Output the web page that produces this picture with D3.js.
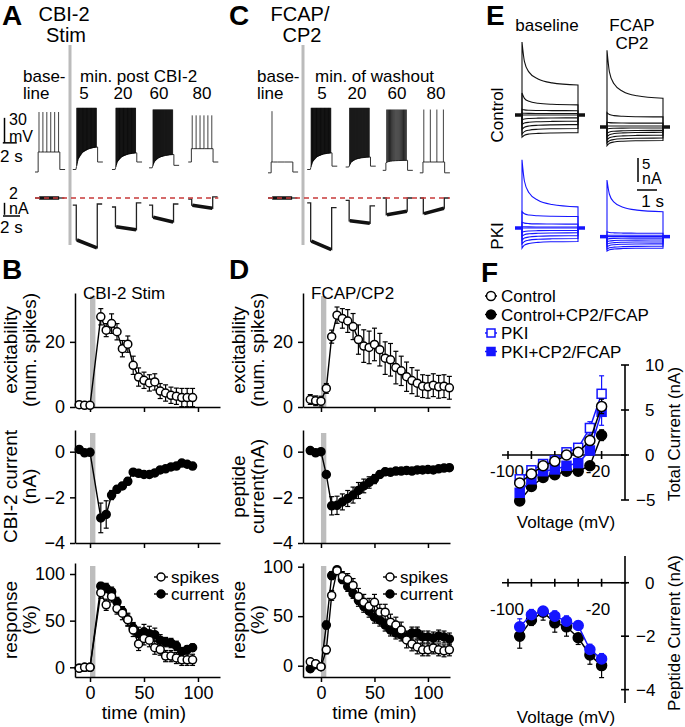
<!DOCTYPE html>
<html>
<head>
<meta charset="utf-8">
<script src="https://cdn.jsdelivr.net/npm/d3@7"></script>
<style>
  body { margin: 0; background: #fff; }
  text { font-family: "Liberation Sans", Arial, Helvetica, sans-serif; }
</style>
</head>
<body>
<script>
var FONT = '"Liberation Sans", Arial, Helvetica, sans-serif';
var BLUE = "#1515ff";

// ---------- B : CBI-2 stim time course ----------
var timeB = [-10, -5, 0, 10, 15, 20, 25, 30, 35, 40, 45, 50, 55, 60, 65, 70, 75, 80, 85, 90, 95];
var spikesB = [0.7, 0.5, 0.5, 27.7, 23.6, 25.6, 23.1, 17.9, 19.3, 12.8, 9.2, 8.2, 7.4, 7.7, 4.9, 4.3, 3.6, 3.3, 2.9, 2.9, 2.9];
var spikesBErr = [0.3, 0.3, 0.3, 2.5, 2.0, 3.0, 2.5, 2.5, 2.5, 2.8, 2.8, 2.5, 2.5, 2.5, 2.3, 2.5, 2.5, 2.5, 2.8, 2.8, 2.8];
var currentB = [0.1, -0.05, -0.03, -2.9, -2.75, -1.9, -1.65, -1.5, -1.3, -0.9, -0.95, -1.0, -1.0, -0.93, -0.8, -0.75, -0.67, -0.63, -0.5, -0.55, -0.63];
var currentBErr = [0.05, 0.05, 0.05, 0.65, 0.6, 0.2, 0.15, 0.15, 0.15, 0.1, 0.1, 0.1, 0.1, 0.1, 0.1, 0.1, 0.1, 0.1, 0.08, 0.08, 0.08];
var respSpikesB = [-1, 0, 0, 80, 67, 76, 63, 58, 51, 40, 25, 31, 29, 21, 19, 12, 12, 10, 8, 8, 8];
var respSpikesBErr = [2, 2, 2, 6, 6, 6, 6, 7, 7, 7, 7, 7, 7, 7, 6, 6, 6, 6, 6, 6, 6];
var respCurrentB = [-1, 0, 0, 87, 85, 81, 70, 60, 51, 42, 36, 38, 36, 35, 29, 27, 26, 23, 17, 19, 21];
var respCurrentBErr = [2, 2, 2, 4, 5, 5, 5, 5, 6, 6, 7, 8, 8, 7, 6, 5, 5, 5, 4, 4, 4];

// ---------- D : FCAP/CP2 time course ----------
var timeD = [-10, -5, 0, 5, 10, 15, 20, 25, 30, 35, 40, 45, 50, 55, 60, 65, 70, 75, 80, 85, 90, 95, 100, 105, 110, 115, 120];
var spikesD = [2.3, 1.9, 1.8, 5.7, 21.6, 28.2, 27.2, 26.4, 24.7, 20.7, 18.7, 18.3, 19.2, 17.6, 15.0, 14.5, 12.1, 11.1, 9.3, 8.1, 7.3, 6.4, 6.2, 6.7, 6.2, 6.4, 5.9];
var spikesDErr = [1.5, 1.5, 1.5, 1.5, 2.0, 2.5, 3.0, 3.5, 4.0, 4.5, 5.0, 5.0, 5.0, 5.0, 5.0, 5.0, 5.0, 4.5, 4.5, 4.0, 4.0, 3.5, 3.5, 3.5, 3.5, 3.5, 3.5];
var currentD = [0.05, -0.05, 0, -1.0, -2.37, -2.35, -2.2, -2.05, -1.9, -1.7, -1.5, -1.35, -1.2, -1.0, -0.88, -0.9, -0.85, -0.85, -0.82, -0.85, -0.8, -0.8, -0.78, -0.8, -0.75, -0.72, -0.7];
var currentDErr = [0.05, 0.05, 0.05, 0.1, 0.4, 0.4, 0.35, 0.35, 0.35, 0.35, 0.3, 0.25, 0.2, 0.15, 0.15, 0.15, 0.15, 0.1, 0.1, 0.1, 0.1, 0.1, 0.1, 0.1, 0.1, 0.1, 0.1];
var respSpikesD = [4, 2, -1, 16, 71, 96, 90, 87, 81, 70, 64, 60, 64, 54, 54, 44, 41, 36, 26, 22, 19, 16, 16, 18, 16, 15, 16];
var respSpikesDErr = [2, 2, 2, 4, 5, 4, 5, 6, 7, 8, 8, 8, 8, 8, 8, 8, 8, 8, 8, 7, 7, 6, 6, 6, 6, 6, 6];
var respCurrentD = [-3, 1, -1, 41, 91, 97, 87, 80, 73, 66, 60, 55, 49, 46, 41, 36, 33, 31, 29, 33, 33, 29, 29, 28, 30, 29, 27];
var respCurrentDErr = [2, 2, 2, 4, 4, 3, 4, 5, 5, 6, 6, 6, 6, 6, 6, 6, 6, 6, 6, 6, 6, 6, 6, 6, 6, 6, 6];

// ---------- F : I-V curves ----------
var voltages = [-90, -80, -70, -60, -50, -40, -30, -20];
var ctrlTotal = [-3.1, -2.1, -1.2, -0.7, 0.0, 0.3, 1.6, 5.4];
var ctrlTotalErr = [0.3, 0.2, 0.2, 0.2, 0.2, 0.2, 0.3, 0.8];
var cp2Total = [-5.1, -3.5, -2.5, -2.2, -1.8, -1.8, -1.2, 2.2];
var cp2TotalErr = [0.5, 0.3, 0.2, 0.2, 0.2, 0.2, 0.3, 0.6];
var pkiTotal = [-2.7, -1.7, -1.0, -0.6, 0.3, 0.8, 3.0, 6.8];
var pkiTotalErr = [0.3, 0.2, 0.2, 0.2, 0.2, 0.3, 0.7, 2.0];
var pkiCp2Total = [-4.2, -2.7, -1.8, -1.6, -1.2, -0.9, 0.5, 4.8];
var pkiCp2TotalErr = [0.4, 0.3, 0.2, 0.2, 0.2, 0.2, 0.3, 1.5];
var ctrlPeptide = [-2.0, -1.4, -1.1, -1.5, -1.65, -2.06, -2.7, -3.1];
var ctrlPeptideErr = [0.45, 0.2, 0.3, 0.35, 0.35, 0.25, 0.35, 0.45];
var pkiPeptide = [-1.65, -1.2, -1.06, -1.25, -1.44, -1.6, -2.5, -2.85];
var pkiPeptideErr = [0.3, 0.2, 0.15, 0.2, 0.2, 0.15, 0.2, 0.2];
var legendF = ["Control", "Control+CP2/FCAP", "PKI", "PKI+CP2/FCAP"];

// ---------- A / C : example recordings ----------
var traceLabels = ["5", "20", "60", "80"];
// voltage traces (mV): baseline, 5, 20, 60, 80 min
var vStartA = [0, 5.4, 11, 16.3, 21.9];
var vRestA = [-65, -62, -62, -60, -53];
var vTrough0A = [-41, -62, -62, -60, -37];
var vTrough1A = [-41, -35, -42, -44, -37];
var vTopA = [7, 12, 12, 10, 3];
var spikeCountA = [6, 45, 45, 40, 6];
var vPostA = [-62, -53, -53, -57, -53];
var vStartC = [0, 5.6, 11.1, 16.4, 21.7];
var vRestC = [-66, -62, -59, -63, -66];
var vTrough0C = [-53, -62, -59, -54, -53];
var vTrough1C = [-53, -42, -47, -51, -53];
var vTopC = [8, 12, 12, 10, 10];
var spikeCountC = [1, 45, 40, 22, 4];
var vPostC = [-65, -58, -58, -63, -66];
// current traces (nA)
var iHoldA = [0, -1.2, -1.5, -1.2, -0.2];
var iPeakA = [0, -7.0, -4.8, -3.2, -1.2];
var iSusA = [0, -8.3, -5.3, -4.0, -1.7];
var iPostA = [0, -1.0, -0.8, -1.0, 0.2];
var iHoldC = [0, -0.8, -0.4, 0, 0];
var iPeakC = [0, -7.2, -3.8, -2.8, -2.6];
var iSusC = [0, -8.6, -4.2, -2.2, -1.7];
var iPostC = [0, -1.6, -1.3, 0, 0];
var envFrac = [0, 0.1, 0.3, 0.6, 1];
var envProf = [0, 0.45, 0.75, 0.92, 1];

// ---------- E : current families (nA) ----------
var eCtrlBasePeak = [15.2, 4.6, 1.2, 0.4, 0, -1.0, -2.0, -3.0, -4.0, -4.6];
var eCtrlBaseSS = [6.25, 2.1, 0.9, 0.3, 0, -0.6, -1.3, -2.0, -2.8, -3.7];
var eCtrlPepPeak = [13.5, 0.5, -1.5, -2.3, -2.9, -3.8, -4.5, -5.2, -5.8, -6.4];
var eCtrlPepSS = [3.5, -0.4, -1.7, -2.3, -2.7, -3.2, -3.6, -4.2, -4.8, -5.3];
var ePkiBasePeak = [14.2, 3.4, 1.2, 0.3, 0, -0.9, -1.7, -2.5, -3.3, -4.2];
var ePkiBaseSS = [4.4, 2.4, 0.8, 0.2, 0, -0.5, -1.0, -1.6, -2.2, -2.8];
var ePkiPepPeak = [10, -0.8, -1.5, -1.8, -2.3, -2.9, -3.4, -3.9, -4.4, -4.8];
var ePkiPepSS = [3.4, -1.1, -1.5, -1.8, -2.1, -2.5, -2.9, -3.3, -3.8, -4.2];
var eHold = [0, -2.5, 0, -1.8];
var decayT = [0, 0.12, 0.35, 0.8, 1.5, 2.8];
var decayF = [1, 0.55, 0.3, 0.14, 0.05, 0];

var svg = d3.select("body").append("svg")
    .attr("width", 685).attr("height", 727);

function label(x, y, s, o) {
    o = o || {};
    var t = svg.append("text").attr("x", x).attr("y", y).text(s)
        .attr("font-size", o.size || 17)
        .attr("text-anchor", o.anchor || "start")
        .attr("fill", o.fill || "#000");
    if (o.bold) t.attr("font-weight", "bold");
    if (o.rot) t.attr("transform", "rotate(" + o.rot + "," + x + "," + y + ")");
    return t;
}

// panel letters
[["A", 2, 25], ["C", 229, 25], ["E", 486, 25], ["B", 2, 279], ["D", 229, 279], ["F", 481, 282]].forEach(function(p) {
    label(p[1], p[2], p[0], {size: 28, bold: true});
});

// ================= time-course panels (B, D) =================
function timePanel(o) {
    var x = d3.scaleLinear().domain(o.xd).range([o.left, o.right]);
    var y = d3.scaleLinear().domain(o.yd).range([o.bottom, o.top]);
    var g = svg.append("g");
    g.append("rect")
        .attr("x", x(0)).attr("y", o.top + 3)
        .attr("width", x(5) - x(0)).attr("height", o.bottom - o.top - 3)
        .attr("fill", "#bdbdbd");

    var xa = d3.axisBottom(x).tickValues([0, 50, 100]).tickSizeInner(5).tickSizeOuter(0).tickPadding(4);
    if (!o.xlab) xa.tickFormat("");
    var gx = g.append("g").attr("transform", "translate(0," + o.bottom + ")").call(xa);
    var ya = d3.axisLeft(y).tickValues(o.yt).tickFormat(d3.format("d"))
        .tickSizeInner(5).tickSizeOuter(0).tickPadding(5);
    var gy = g.append("g").attr("transform", "translate(" + o.left + ",0)").call(ya);
    [gx, gy].forEach(function(a) {
        a.attr("font-size", 18).attr("font-family", FONT);
        a.selectAll("path,line").attr("stroke-width", 1.5);
        a.selectAll("text").attr("fill", "#000");
    });

    o.series.forEach(function(s) {
        var line = d3.line().x(function(d, i) { return x(o.t[i]); }).y(function(d) { return y(d); });
        g.append("path").datum(s.v).attr("d", line)
            .attr("fill", "none").attr("stroke", "#000").attr("stroke-width", 1.4);
        var eb = g.append("g").attr("stroke", "#000").attr("stroke-width", 1.2);
        s.v.forEach(function(v, i) {
            var cx = x(o.t[i]), y1 = y(v + s.e[i]), y2 = y(v - s.e[i]);
            eb.append("line").attr("x1", cx).attr("x2", cx).attr("y1", y1).attr("y2", y2);
            eb.append("line").attr("x1", cx - 2.5).attr("x2", cx + 2.5).attr("y1", y1).attr("y2", y1);
            eb.append("line").attr("x1", cx - 2.5).attr("x2", cx + 2.5).attr("y1", y2).attr("y2", y2);
        });
        g.selectAll(null).data(s.v).enter().append("circle")
            .attr("cx", function(d, i) { return x(o.t[i]); })
            .attr("cy", function(d) { return y(d); })
            .attr("r", 4)
            .attr("fill", s.open ? "#fff" : "#000")
            .attr("stroke", "#000").attr("stroke-width", 1.5);
    });

    o.ylab.forEach(function(t, i) {
        label(o.left - 58 + i * 19, (o.top + o.bottom) / 2, t, {size: 19, anchor: "middle", rot: -90});
    });
    if (o.title) label(o.left + 8, o.top + 6, o.title, {size: 17});
    if (o.xlab) label((x(0) + x(100)) / 2, o.bottom + 42, "time (min)", {size: 19, anchor: "middle"});
    if (o.legend) {
        [["spikes", true], ["current", false]].forEach(function(l, i) {
            var ly = o.top + 14 + i * 17, lx = o.legend;
            g.append("line").attr("x1", lx - 7).attr("x2", lx + 7).attr("y1", ly).attr("y2", ly)
                .attr("stroke", "#000").attr("stroke-width", 1.4);
            g.append("circle").attr("cx", lx).attr("cy", ly).attr("r", 4)
                .attr("fill", l[1] ? "#fff" : "#000").attr("stroke", "#000").attr("stroke-width", 1.5);
            label(lx + 10, ly + 6, l[0], {size: 17});
        });
    }
}

var bx = {left: 75, right: 220, xd: [-13.9, 120.4]};
var dx = {left: 303, right: 450, xd: [-16.8, 120.6]};

timePanel(Object.assign({}, bx, {top: 293, bottom: 407, yd: [0, 35], yt: [0, 20], t: timeB,
    series: [{v: spikesB, e: spikesBErr, open: true}], ylab: ["excitability", "(num. spikes)"], title: "CBI-2 Stim"}));
timePanel(Object.assign({}, bx, {top: 430, bottom: 543, yd: [-4, 0.95], yt: [-4, -2, 0], t: timeB,
    series: [{v: currentB, e: currentBErr}], ylab: ["CBI-2 current", "(nA)"]}));
timePanel(Object.assign({}, bx, {top: 563, bottom: 677, yd: [-10.4, 111.8], yt: [0, 50, 100], t: timeB,
    series: [{v: respCurrentB, e: respCurrentBErr}, {v: respSpikesB, e: respSpikesBErr, open: true}],
    ylab: ["response", "(%)"], xlab: true, legend: 161}));

timePanel(Object.assign({}, dx, {top: 293, bottom: 407, yd: [0, 35], yt: [0, 20], t: timeD,
    series: [{v: spikesD, e: spikesDErr, open: true}], ylab: ["excitability", "(num. spikes)"], title: "FCAP/CP2"}));
timePanel(Object.assign({}, dx, {top: 430, bottom: 543, yd: [-4, 0.95], yt: [-4, -2, 0], t: timeD,
    series: [{v: currentD, e: currentDErr}], ylab: ["peptide", "current(nA)"]}));
timePanel(Object.assign({}, dx, {top: 563, bottom: 677, yd: [-11.4, 103.7], yt: [0, 50, 100], t: timeD,
    series: [{v: respCurrentD, e: respCurrentDErr}, {v: respSpikesD, e: respSpikesDErr, open: true}],
    ylab: ["response", "(%)"], xlab: true, legend: 390}));

// ================= example traces (A, C) =================
var yV = d3.scaleLinear().domain([-65, 0]).range([172, 117.85]);
var yI = d3.scaleLinear().domain([0, -8]).range([198, 246]);
var lineLin = d3.line();
var lineCurve = d3.line().curve(d3.curveMonotoneX);

function tracePanel(xs, vStart, vRest, tr0, tr1, top, nSp, vPost, iHold, iPeak, iSus, iPost) {
    var g = svg.append("g");
    vStart.forEach(function(s0, i) {
        var on = s0 + 0.45, off = s0 + 3.55, end = s0 + 4.3;
        var env = d3.scaleLinear()
            .domain(envFrac.map(function(f) { return on + f * (off - on); }))
            .range(envProf.map(function(f) { return tr0[i] + (tr1[i] - tr0[i]) * f; }));
        var envPts = envFrac.map(function(f) { var t = on + f * (off - on); return [xs(t), yV(env(t))]; });
        var d = lineLin([[xs(s0), yV(vRest[i])], [xs(on), yV(vRest[i])]]) +
            lineCurve(envPts).replace(/^M/, "L") +
            lineLin([[xs(off), yV(vPost[i])], [xs(end), yV(vPost[i])]]).replace(/^M/, "L");
        g.append("path").attr("d", d).attr("fill", "none").attr("stroke", "#333").attr("stroke-width", 1);
        var n = nSp[i];
        for (var k = 0; k < n; k++) {
            var t = on + 0.12 + (off - on - 0.3) * (n === 1 ? 0 : k / (n - 1));
            g.append("line").attr("x1", xs(t)).attr("x2", xs(t))
                .attr("y1", yV(env(t))).attr("y2", yV(top[i]))
                .attr("stroke", n > 30 ? "#000" : "#111").attr("stroke-width", n > 30 ? 0.8 : (n > 10 ? 0.9 : 0.8));
        }
        // current
        var ion = s0 + 0.5, ioff = s0 + 3.5, iend = s0 + 4.2;
        var di = lineLin([[xs(s0), yI(iHold[i])], [xs(ion), yI(iHold[i])], [xs(ion), yI(iPeak[i])],
            [xs(ioff), yI(iSus[i])], [xs(ioff), yI(iPost[i])], [xs(iend), yI(iPost[i])]]);
        g.append("path").attr("d", di).attr("fill", "none").attr("stroke", "#222").attr("stroke-width", 1.3);
        // noisy band of the recorded current during the step
        g.append("path").attr("d", lineLin([[xs(ion + 0.1), yI(iPeak[i])], [xs(ioff - 0.05), yI(iSus[i])]]))
            .attr("stroke", "#111").attr("stroke-width", 3.5);
    });
    g.append("line").attr("x1", xs(vStart[0])).attr("x2", xs(vStart[4] + 4.3))
        .attr("y1", yI(0)).attr("y2", yI(0))
        .attr("stroke", "#c83a3a").attr("stroke-width", 1.5).attr("stroke-dasharray", "5,4");
    return g;
}

var xA = d3.scaleLinear().domain([0, 26.3]).range([35, 219]);
var xC = d3.scaleLinear().domain([0, 26.3]).range([268, 452]);

// gray stimulus bars
svg.append("rect").attr("x", 68.5).attr("y", 45).attr("width", 3).attr("height", 200).attr("fill", "#bbb");
svg.append("rect").attr("x", 301.5).attr("y", 45).attr("width", 3).attr("height", 200).attr("fill", "#bbb");

tracePanel(xA, vStartA, vRestA, vTrough0A, vTrough1A, vTopA, spikeCountA, vPostA, iHoldA, iPeakA, iSusA, iPostA);
tracePanel(xC, vStartC, vRestC, vTrough0C, vTrough1C, vTopC, spikeCountC, vPostC, iHoldC, iPeakC, iSusC, iPostC);

// scale bars A
var sb = svg.append("g").attr("stroke", "#000").attr("stroke-width", 1.5);
sb.append("line").attr("x1", 4.5).attr("x2", 4.5).attr("y1", yV(0)).attr("y2", yV(-30));
sb.append("line").attr("x1", xA(-4.6)).attr("x2", xA(-2.6)).attr("y1", yV(-30)).attr("y2", yV(-30));
sb.append("line").attr("x1", 4.5).attr("x2", 4.5).attr("y1", yI(-0.8)).attr("y2", yI(-2.8));
sb.append("line").attr("x1", 3).attr("x2", 20).attr("y1", yI(-3.0)).attr("y2", yI(-3.0));
label(9, 125, "30", {size: 16});
label(9, 142, "mV", {size: 16});
label(0, 162, "2 s", {size: 17});
label(9, 199, "2", {size: 16});
label(9, 214, "nA", {size: 16});
label(0, 233, "2 s", {size: 17});

// headings A / C
label(64, 21, "CBI-2", {size: 20, anchor: "middle"});
label(66, 42, "Stim", {size: 20, anchor: "middle"});
label(23, 82, "base-", {size: 17});
label(23, 99, "line", {size: 17});
label(80, 82, "min. post CBI-2", {size: 17});
[84, 123, 159, 202].forEach(function(cx, i) { label(cx, 99, traceLabels[i], {size: 17, anchor: "middle"}); });

label(300, 21, "FCAP/", {size: 20, anchor: "middle"});
label(302, 42, "CP2", {size: 20, anchor: "middle"});
label(257, 82, "base-", {size: 17});
label(257, 99, "line", {size: 17});
label(315, 82, "min. of washout", {size: 17});
[322, 357, 397, 436].forEach(function(cx, i) { label(cx, 99, traceLabels[i], {size: 17, anchor: "middle"}); });

// ================= E =================
var lineDecay = d3.line().curve(d3.curveMonotoneX);
function eFamily(x0, y0, hold, peaks, ss, color) {
    var xs = d3.scaleLinear().domain([0, 1]).range([x0, x0 + 20]);
    var ys = d3.scaleLinear().domain([0, 5]).range([y0, y0 - 24]);
    var g = svg.append("g").attr("fill", "none").attr("stroke", color);
    peaks.forEach(function(p, i) {
        var pts = decayT.map(function(t, k) { return [xs(t), ys(ss[i] + (p - ss[i]) * decayF[k])]; });
        var d = lineLin([[xs(-0.35), ys(hold)], [xs(0), ys(hold)]]) +
            lineDecay(pts).replace(/^M/, "L") +
            lineLin([[xs(2.8), ys(hold)], [xs(3.15), ys(hold)]]).replace(/^M/, "L");
        g.append("path").attr("d", d).attr("stroke-width", 1.1);
    });
    g.append("line").attr("x1", xs(-0.35)).attr("x2", xs(0)).attr("y1", ys(hold)).attr("y2", ys(hold)).attr("stroke-width", 3.5);
    g.append("line").attr("x1", xs(2.8)).attr("x2", xs(3.15)).attr("y1", ys(hold)).attr("y2", ys(hold)).attr("stroke-width", 3.5);
}
eFamily(522, 115, eHold[0], eCtrlBasePeak, eCtrlBaseSS, "#111");
eFamily(607, 115, eHold[1], eCtrlPepPeak, eCtrlPepSS, "#111");
eFamily(522, 228, eHold[2], ePkiBasePeak, ePkiBaseSS, BLUE);
eFamily(607, 228, eHold[3], ePkiPepPeak, ePkiPepSS, BLUE);

label(547, 31, "baseline", {size: 17, anchor: "middle"});
label(632, 31, "FCAP", {size: 17, anchor: "middle"});
label(632, 49, "CP2", {size: 17, anchor: "middle"});
label(503, 115, "Control", {size: 17, anchor: "middle", rot: -90});
label(503, 236, "PKI", {size: 17, anchor: "middle", rot: -90});
var sbE = svg.append("g").attr("stroke", "#000").attr("stroke-width", 1.5);
sbE.append("line").attr("x1", 638).attr("x2", 638).attr("y1", 158).attr("y2", 182);
sbE.append("line").attr("x1", 637).attr("x2", 657).attr("y1", 190).attr("y2", 190);
label(642, 169, "5", {size: 15});
label(642, 184, "nA", {size: 16});
label(664, 207, "1 s", {size: 17, anchor: "end"});

// ================= F =================
var xF = d3.scaleLinear().domain([-100, 0]).range([508, 625]);
var yF1 = d3.scaleLinear().domain([-5, 10]).range([500, 365]);
var yF2 = d3.scaleLinear().domain([-4.5, 1]).range([703, 556]);

function ivAxes(y, yTicks, xLabY) {
    var g = svg.append("g").attr("stroke", "#000").attr("stroke-width", 1.6);
    g.append("line").attr("x1", 502).attr("x2", 627).attr("y1", y(0)).attr("y2", y(0));
    g.append("line").attr("x1", xF(0)).attr("x2", xF(0)).attr("y1", y.range()[1]).attr("y2", y.range()[0]);
    [-100, -80, -60, -40, -20].forEach(function(v) {
        g.append("line").attr("x1", xF(v)).attr("x2", xF(v)).attr("y1", y(0) - 4).attr("y2", y(0) + 4);
    });
    yTicks.forEach(function(v) {
        g.append("line").attr("x1", xF(0) - 4).attr("x2", xF(0) + 4).attr("y1", y(v)).attr("y2", y(v));
        label(v < 0 ? 636 : 645, y(v) + 6, v < 0 ? "\u2212" + Math.abs(v) : String(v), {size: 17});
    });
    label(507, xLabY, "-100", {size: 17, anchor: "middle"});
    label(598, xLabY, "-20", {size: 17, anchor: "middle"});
}

function ivSeries(y, vals, errs, shape, fill, stroke, dir) {
    var g = svg.append("g");
    var line = d3.line().x(function(d, i) { return xF(voltages[i]); }).y(function(d) { return y(d); });
    g.append("path").datum(vals).attr("d", line).attr("fill", "none").attr("stroke", stroke).attr("stroke-width", 1.5);
    vals.forEach(function(v, i) {
        var cx = xF(voltages[i]);
        var ends = dir === 0 ? [v - errs[i], v + errs[i]] : [v + dir * errs[i]];
        ends.forEach(function(e) {
            g.append("line").attr("x1", cx).attr("x2", cx).attr("y1", y(v)).attr("y2", y(e)).attr("stroke", stroke).attr("stroke-width", 1.2);
            g.append("line").attr("x1", cx - 2.5).attr("x2", cx + 2.5).attr("y1", y(e)).attr("y2", y(e)).attr("stroke", stroke).attr("stroke-width", 1.2);
        });
        if (shape === "circle") {
            g.append("circle").attr("cx", cx).attr("cy", y(v)).attr("r", 5)
                .attr("fill", fill).attr("stroke", stroke).attr("stroke-width", 1.5);
        } else {
            g.append("rect").attr("x", cx - 4.5).attr("y", y(v) - 4.5).attr("width", 9).attr("height", 9)
                .attr("fill", fill).attr("stroke", stroke).attr("stroke-width", 1.5);
        }
    });
}

ivAxes(yF1, [10, 5, 0, -5], 477);
ivSeries(yF1, cp2Total, cp2TotalErr, "circle", "#000", "#000", 0);
ivSeries(yF1, pkiCp2Total, pkiCp2TotalErr, "square", BLUE, BLUE, 0);
ivSeries(yF1, pkiTotal, pkiTotalErr, "square", "#fff", BLUE, 0);
ivSeries(yF1, ctrlTotal, ctrlTotalErr, "circle", "#fff", "#000", 0);
label(566, 528, "Voltage (mV)", {size: 17, anchor: "middle"});
label(680, 434, "Total Current (nA)", {size: 17, anchor: "middle", rot: -90});

ivAxes(yF2, [0, -2, -4], 615);
ivSeries(yF2, ctrlPeptide, ctrlPeptideErr, "circle", "#000", "#000", -1);
ivSeries(yF2, pkiPeptide, pkiPeptideErr, "circle", BLUE, BLUE, 1);
label(566, 723, "Voltage (mV)", {size: 17, anchor: "middle"});
label(680, 633, "Peptide Current (nA)", {size: 17, anchor: "middle", rot: -90});

// legend F
var legStyle = [["circle", "#fff", "#000"], ["circle", "#000", "#000"], ["square", "#fff", BLUE], ["square", BLUE, BLUE]];
legendF.forEach(function(t, i) {
    var ly = 296 + i * 18.5, lx = 491;
    var s = legStyle[i];
    svg.append("line").attr("x1", lx - 6).attr("x2", lx + 6).attr("y1", ly).attr("y2", ly).attr("stroke", s[2]).attr("stroke-width", 1.5);
    if (s[0] === "circle") {
        svg.append("circle").attr("cx", lx).attr("cy", ly).attr("r", 4.5).attr("fill", s[1]).attr("stroke", s[2]).attr("stroke-width", 1.5);
    } else {
        svg.append("rect").attr("x", lx - 4).attr("y", ly - 4).attr("width", 8).attr("height", 8).attr("fill", s[1]).attr("stroke", s[2]).attr("stroke-width", 1.5);
    }
    label(lx + 10, ly + 6, t, {size: 17});
});
</script>
</body>
</html>
